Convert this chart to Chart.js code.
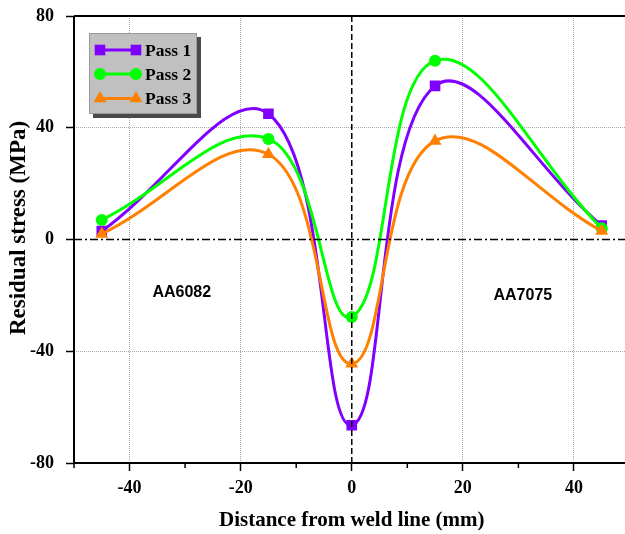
<!DOCTYPE html>
<html>
<head>
<meta charset="utf-8">
<script src="https://cdn.jsdelivr.net/npm/chart.js@4.4.0/dist/chart.umd.min.js"></script>
<style>
  html, body { margin: 0; padding: 0; background: #fff; overflow: hidden; }
  #wrap { width: 637px; height: 534px; }
</style>
</head>
<body>
<div id="wrap"><canvas id="chart" width="637" height="534"></canvas></div>
<script>
// data
const positions = [-45, -15, 0, 15, 45];
const pass1 = [3, 45, -66.5, 55, 5];
const pass2 = [7, 36, -27.7, 64, 4];
const pass3 = [2, 30.5, -44.5, 35.3, 3];
const seriesNames = ['Pass 1', 'Pass 2', 'Pass 3'];
const seriesColors = ['#8000FF', '#00FF00', '#FF8000'];
const xTickValues = [-40, -20, 0, 20, 40];
const xMinorTicks = [-50, -30, -10, 10, 30];
const yTickValues = [-80, -40, 0, 40, 80];
const regionLabels = ['AA6082', 'AA7075'];
const yTitle = 'Residual stress (MPa)';

const serif = '"Liberation Serif", "Times New Roman", serif';
const sans = '"Liberation Sans", Arial, sans-serif';

function toPoints(values) {
  return positions.map((x, i) => ({ x: x, y: values[i] }));
}

const markers = [
  { pointStyle: 'rect', radius: 7.5 },
  { pointStyle: 'circle', radius: 6 },
  { pointStyle: 'triangle', radius: 7.5 }
];

const datasets = [pass1, pass2, pass3].map((vals, i) => ({
  label: seriesNames[i],
  data: toPoints(vals),
  borderColor: seriesColors[i],
  backgroundColor: seriesColors[i],
  borderWidth: 3,
  tension: 0.4,
  pointStyle: markers[i].pointStyle,
  pointRadius: markers[i].radius,
  pointBorderWidth: 0,
  order: 3 - i
}));

const gridColor = '#a8a8a8';

const decorations = {
  id: 'decorations',
  afterDatasetsDraw(chart) {
    const { ctx, chartArea: a, scales: { x, y } } = chart;
    ctx.save();
    // zero lines
    ctx.strokeStyle = '#000';
    ctx.lineWidth = 1.5;
    ctx.setLineDash([6, 3]);
    ctx.beginPath();
    ctx.moveTo(x.getPixelForValue(0), a.top);
    ctx.lineTo(x.getPixelForValue(0), a.bottom);
    ctx.stroke();
    ctx.setLineDash([8, 3, 2, 3]);
    ctx.beginPath();
    ctx.moveTo(a.left, y.getPixelForValue(0));
    ctx.lineTo(a.right, y.getPixelForValue(0));
    ctx.stroke();
    ctx.setLineDash([]);

    // frame
    ctx.lineWidth = 2;
    ctx.beginPath();
    ctx.moveTo(a.left, a.top);
    ctx.lineTo(a.right + 5, a.top);
    ctx.moveTo(a.left, a.top);
    ctx.lineTo(a.left, a.bottom);
    ctx.moveTo(a.left - 1, a.bottom);
    ctx.lineTo(a.right + 5, a.bottom);
    ctx.stroke();

    // minor ticks on x
    ctx.lineWidth = 1.5;
    ctx.beginPath();
    xMinorTicks.forEach(v => {
      const px = x.getPixelForValue(v);
      ctx.moveTo(px, a.bottom);
      ctx.lineTo(px, a.bottom + 5);
    });
    ctx.stroke();

    // y axis title, set a little above the axis centre as in the source
    ctx.fillStyle = '#000';
    ctx.save();
    ctx.translate(19, 228);
    ctx.rotate(-Math.PI / 2);
    ctx.font = 'bold 23px ' + serif;
    ctx.textAlign = 'center';
    ctx.textBaseline = 'middle';
    ctx.fillText(yTitle, 0, 0);
    ctx.restore();

    // region labels
    ctx.font = 'bold 16px ' + sans;
    ctx.textAlign = 'center';
    ctx.textBaseline = 'middle';
    const anchors = [[-30.6, -19.1], [30.8, -20.2]];
    regionLabels.forEach((t, i) => {
      ctx.fillText(t, x.getPixelForValue(anchors[i][0]), y.getPixelForValue(anchors[i][1]));
    });

    // legend box
    const bx = 89, by = 33, bw = 108, bh = 81;
    ctx.fillStyle = '#4a4a4a';
    ctx.fillRect(bx + 4, by + 4, bw, bh);
    ctx.fillStyle = '#c0c0c0';
    ctx.fillRect(bx, by, bw, bh);
    ctx.strokeStyle = '#9a9a9a';
    ctx.lineWidth = 1;
    ctx.strokeRect(bx + 0.5, by + 0.5, bw - 1, bh - 1);

    const rows = [50, 74, 98.5];
    chart.data.datasets.forEach((ds, i) => {
      const ry = rows[i];
      ctx.strokeStyle = ds.borderColor;
      ctx.fillStyle = ds.backgroundColor;
      ctx.lineWidth = 3;
      ctx.beginPath();
      ctx.moveTo(100, ry);
      ctx.lineTo(136, ry);
      ctx.stroke();
      [100, 136].forEach(px => {
        Chart.helpers.drawPoint(ctx, {
          pointStyle: ds.pointStyle, radius: ds.pointRadius, rotation: 0, borderWidth: 0
        }, px, ry);
      });
      ctx.fillStyle = '#000';
      ctx.font = 'bold 17.5px ' + serif;
      ctx.textAlign = 'left';
      ctx.textBaseline = 'middle';
      ctx.fillText(ds.label, 145, ry + 1);
    });
    ctx.restore();
  }
};

new Chart(document.getElementById('chart'), {
  type: 'line',
  data: { datasets: datasets },
  options: {
    responsive: false,
    animation: false,
    devicePixelRatio: 1,
    layout: { padding: { top: 16, right: 3, left: 0, bottom: 0 } },
    plugins: { legend: { display: false }, tooltip: { enabled: false } },
    scales: {
      x: {
        type: 'linear',
        min: -50,
        max: 50,
        afterBuildTicks: s => { s.ticks = xTickValues.map(v => ({ value: v })); },
        afterFit: s => { s.height = 71; s.paddingLeft = 0; s.paddingRight = 0; },
        ticks: {
          color: '#000',
          padding: 7,
          font: { family: serif, size: 18, weight: 'bold' },
          callback: v => String(v)
        },
        grid: {
          color: c => (c.tick && c.tick.value !== 0 ? gridColor : 'rgba(0,0,0,0)'),
          lineWidth: 1,
          tickColor: '#000',
          tickLength: 8,
          tickWidth: 1.5,
          tickBorderDash: []
        },
        border: { display: false, dash: [1, 1] },
        title: {
          display: true,
          text: 'Distance from weld line (mm)',
          color: '#000',
          font: { family: serif, size: 21, weight: 'bold' },
          padding: { top: 0, bottom: 1 }
        }
      },
      y: {
        type: 'linear',
        min: -80,
        max: 80,
        afterBuildTicks: s => { s.ticks = yTickValues.map(v => ({ value: v })); },
        afterFit: s => { s.width = 74; s.paddingTop = 0; s.paddingBottom = 0; },
        ticks: {
          color: '#000',
          padding: 12,
          font: { family: serif, size: 18, weight: 'bold' },
          callback: v => String(v)
        },
        grid: {
          color: c => (c.tick && Math.abs(c.tick.value) === 40 ? gridColor : 'rgba(0,0,0,0)'),
          lineWidth: 1,
          tickColor: '#000',
          tickLength: 8,
          tickWidth: 1.5,
          tickBorderDash: []
        },
        border: { display: false, dash: [1, 1] },
        title: { display: false }
      }
    }
  },
  plugins: [decorations]
});
</script>
</body>
</html>
